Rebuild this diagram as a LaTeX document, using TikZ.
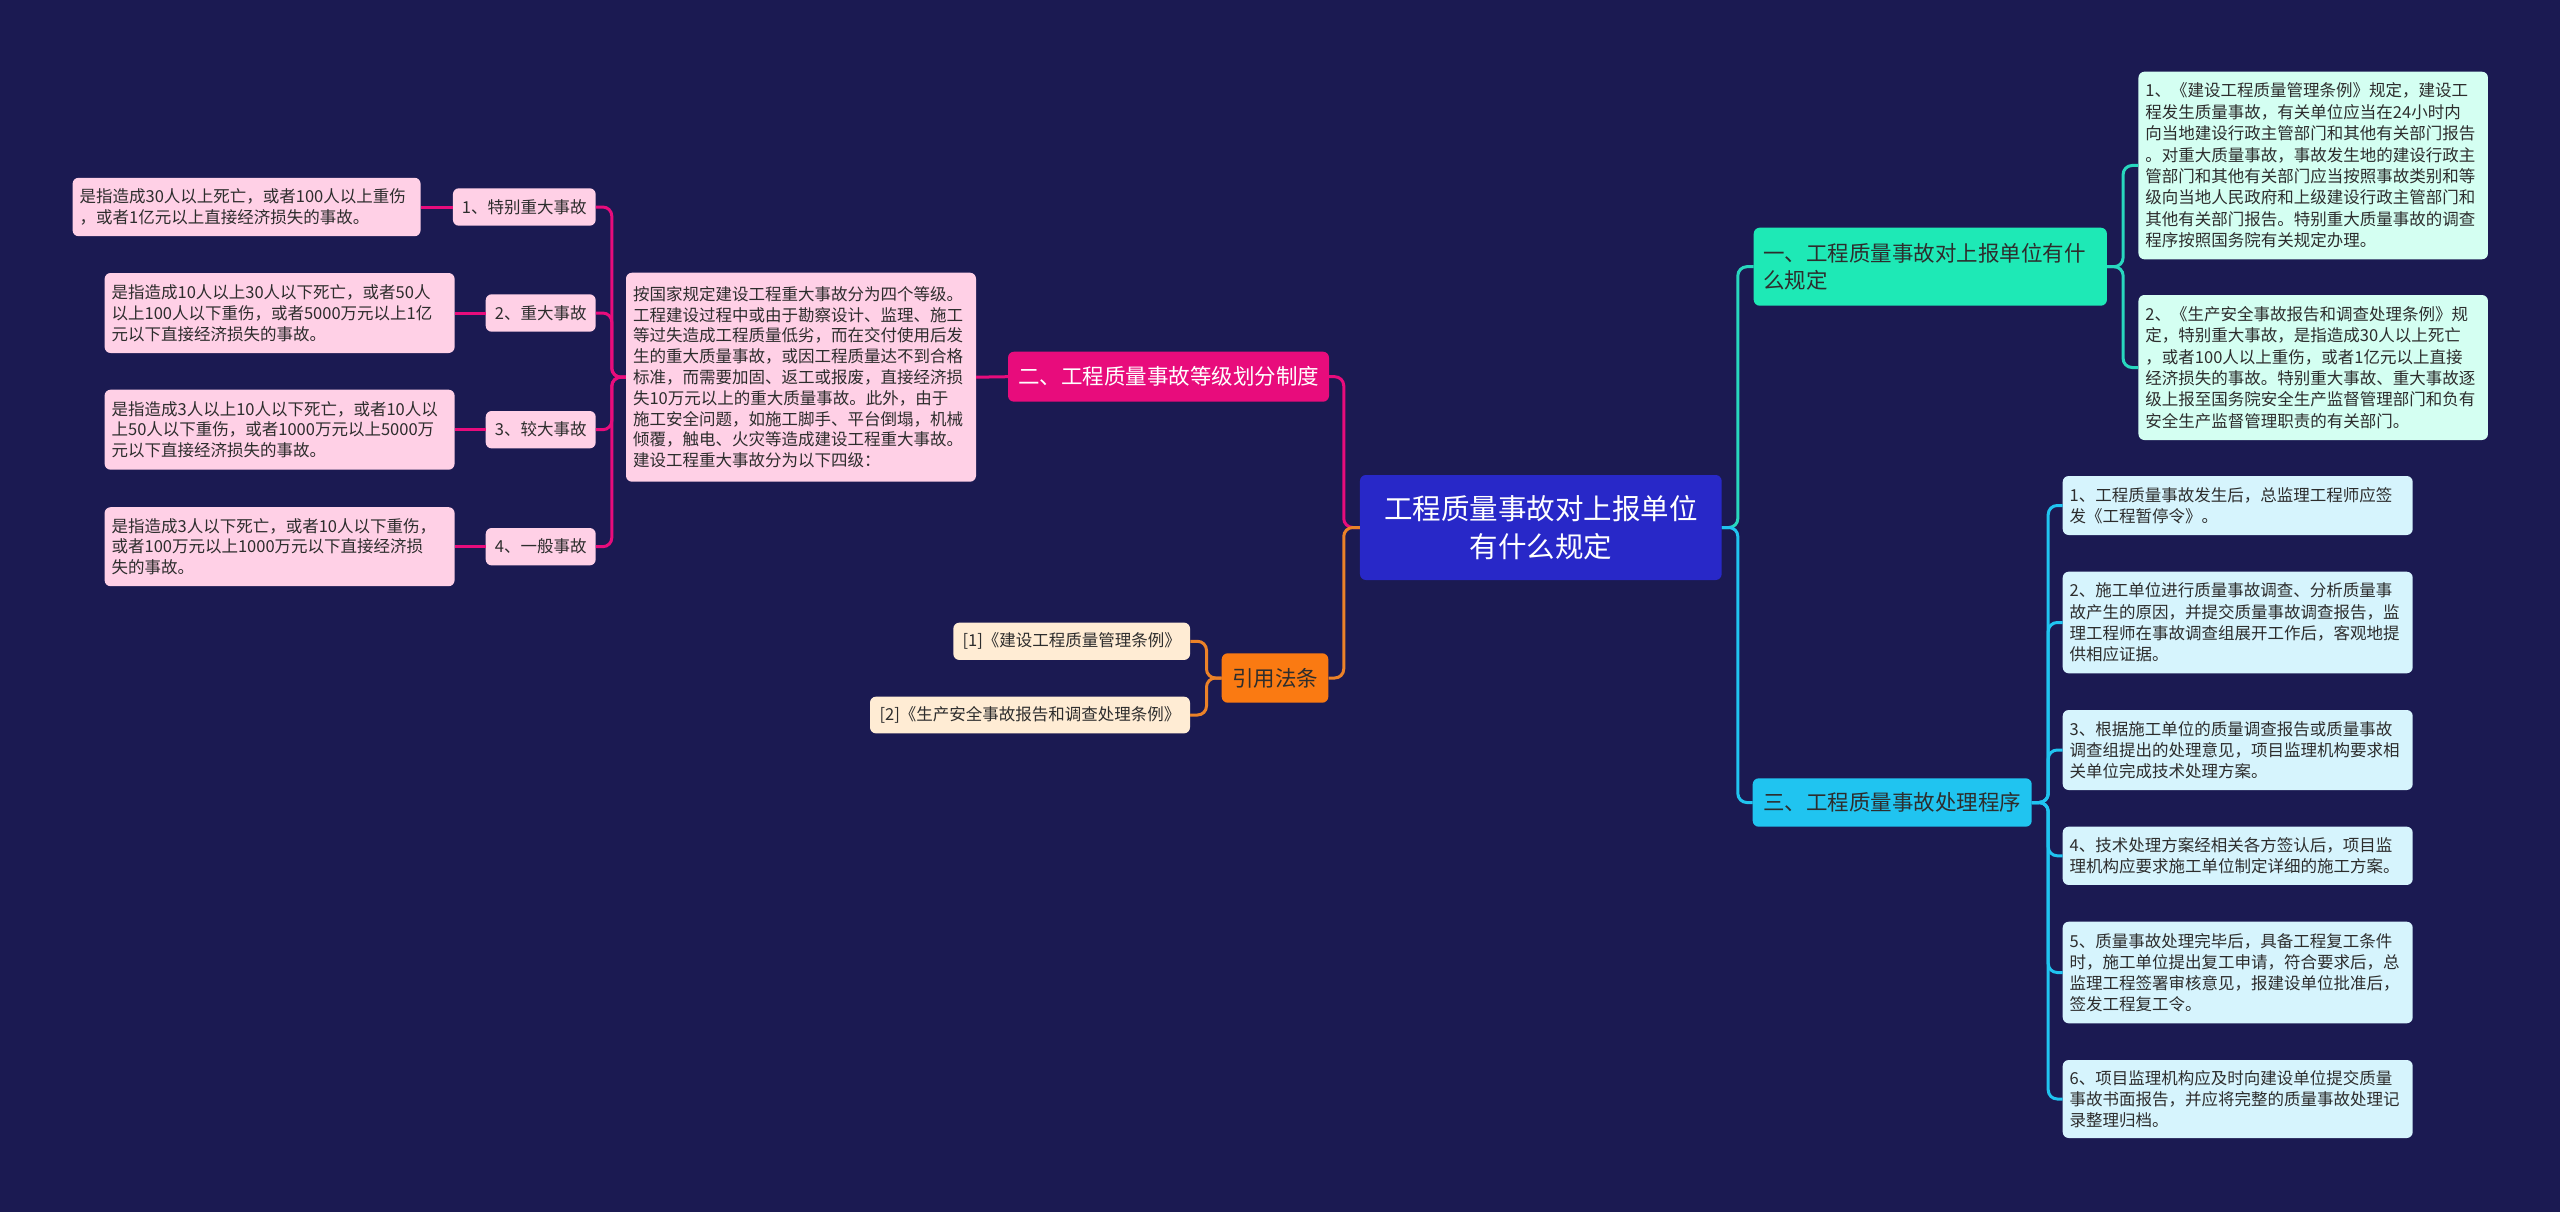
\documentclass[tikz,border=0pt]{standalone}
\usepackage{fontspec}
\setmainfont{Noto Sans CJK SC}
\definecolor{bg}{RGB}{27,26,82}
\definecolor{cblue}{RGB}{40,40,200}
\definecolor{mag}{RGB}{232,12,124}
\definecolor{pinkbox}{RGB}{255,208,230}
\definecolor{orng}{RGB}{250,122,18}
\definecolor{orline}{RGB}{236,130,40}
\definecolor{cream}{RGB}{255,236,212}
\definecolor{aqua}{RGB}{30,233,182}
\definecolor{aqline}{RGB}{40,215,190}
\definecolor{mint}{RGB}{212,255,242}
\definecolor{sky}{RGB}{32,196,240}
\definecolor{lcyan}{RGB}{214,244,253}
\definecolor{txt}{RGB}{45,45,45}
\begin{document}
\begin{tikzpicture}[x=1pt,y=-1pt,
  base/.style={rounded corners=6pt, inner sep=0pt, text=txt},
  small/.style={font=\fontsize{16.5}{21}\selectfont},
  midf/.style={font=\fontsize{21.5}{27.3}\selectfont},
  para/.style={base, small, align=left, inner xsep=7pt},
  pinkb/.style={para, fill=pinkbox},
  pinkl/.style={base, small, align=center, fill=pinkbox},
  refb/.style={base, small, align=center, fill=cream},
  mintb/.style={para, fill=mint, font=\fontsize{16.5}{21.4}\selectfont},
  cyanb/.style={para, fill=lcyan, font=\fontsize{16.5}{21.2}\selectfont},
  conn/.style={line width=3pt, rounded corners=9pt},
]
\useasboundingbox (0,0) rectangle (2560,1212);
\fill[bg] (0,0) rectangle (2560,1212);

% center
\node[base, fill=cblue, text=white, align=center, minimum width=361.7pt, minimum height=105pt,
  font=\fontsize{28.5}{38.3}\selectfont] (c) at (1540.8,527.5) {工程质量事故对上报单位\\有什么规定};

% left branch 二
\node[base, fill=mag, text=white, align=center, minimum width=321pt, minimum height=50pt, midf] (b2) at (1168.5,376.7) {二、工程质量事故等级划分制度};
\node[pinkb, minimum width=350pt, minimum height=209pt, text width=336pt, font=\fontsize{16.5}{20.8}\selectfont] (m) at (801,377.2) {按国家规定建设工程重大事故分为四个等级。\\工程建设过程中或由于勘察设计、监理、施工\\等过失造成工程质量低劣，而在交付使用后发\\生的重大质量事故，或因工程质量达不到合格\\标准，而需要加固、返工或报废，直接经济损\\失10万元以上的重大质量事故。此外，由于\\施工安全问题，如施工脚手、平台倒塌，机械\\倾覆，触电、火灾等造成建设工程重大事故。\\建设工程重大事故分为以下四级：};

\node[pinkl, minimum width=142.8pt, minimum height=37.4pt] (L1) at (524.3,207) {1、特别重大事故};
\node[pinkl, minimum width=110pt, minimum height=37.4pt] (L2) at (540.7,313) {2、重大事故};
\node[pinkl, minimum width=110pt, minimum height=37.4pt] (L3) at (540.7,429.7) {3、较大事故};
\node[pinkl, minimum width=110pt, minimum height=37.4pt] (L4) at (540.7,546.7) {4、一般事故};

\node[pinkb, minimum width=348pt, minimum height=58.4pt, text width=334pt, font=\fontsize{16.5}{20.8}\selectfont] (d1) at (246.6,207) {是指造成30人以上死亡，或者100人以上重伤\\，或者1亿元以上直接经济损失的事故。};
\node[pinkb, minimum width=350pt, minimum height=80pt, text width=336pt, font=\fontsize{16.5}{20.8}\selectfont] (d2) at (279.6,313) {是指造成10人以上30人以下死亡，或者50人\\以上100人以下重伤，或者5000万元以上1亿\\元以下直接经济损失的事故。};
\node[pinkb, minimum width=350pt, minimum height=80pt, text width=336pt, font=\fontsize{16.5}{20.8}\selectfont] (d3) at (279.6,429.7) {是指造成3人以上10人以下死亡，或者10人以\\上50人以下重伤，或者1000万元以上5000万\\元以下直接经济损失的事故。};
\node[pinkb, minimum width=350pt, minimum height=79pt, text width=336pt, font=\fontsize{16.5}{20.8}\selectfont] (d4) at (279.6,546.7) {是指造成3人以下死亡，或者10人以下重伤，\\或者100万元以上1000万元以下直接经济损\\失的事故。};

% 引用法条
\node[base, fill=orng, align=center, minimum width=106.6pt, minimum height=49.4pt, midf] (yf) at (1275,678) {引用法条};
\node[refb, minimum width=236.7pt, minimum height=37.3pt] (r1) at (1071.7,641.3) {[1]《建设工程质量管理条例》};
\node[refb, minimum width=320pt, minimum height=36.7pt] (r2) at (1030,715) {[2]《生产安全事故报告和调查处理条例》};

% right branch 一
\node[base, fill=aqua, align=left, inner xsep=9.6pt, text width=334pt, minimum height=78pt, midf] (b1) at (1930.3,266.7) {一、工程质量事故对上报单位有什\\么规定};
\node[mintb, minimum width=349.5pt, minimum height=187.6pt, text width=335.5pt] (R1) at (2313.2,165.5) {1、《建设工程质量管理条例》规定，建设工\\程发生质量事故，有关单位应当在24小时内\\向当地建设行政主管部门和其他有关部门报告\\。对重大质量事故，事故发生地的建设行政主\\管部门和其他有关部门应当按照事故类别和等\\级向当地人民政府和上级建设行政主管部门和\\其他有关部门报告。特别重大质量事故的调查\\程序按照国务院有关规定办理。};
\node[mintb, minimum width=349.5pt, minimum height=145pt, text width=335.5pt] (R2) at (2313.2,367.5) {2、《生产安全事故报告和调查处理条例》规\\定，特别重大事故，是指造成30人以上死亡\\，或者100人以上重伤，或者1亿元以上直接\\经济损失的事故。特别重大事故、重大事故逐\\级上报至国务院安全生产监督管理部门和负有\\安全生产监督管理职责的有关部门。};

% right branch 三
\node[base, fill=sky, align=center, minimum width=279pt, minimum height=48.4pt, midf] (b3) at (1892.2,802.5) {三、工程质量事故处理程序};
\node[cyanb, minimum width=350pt, minimum height=59pt, text width=336pt] (S1) at (2237.7,505.5) {1、工程质量事故发生后，总监理工程师应签\\发《工程暂停令》。};
\node[cyanb, minimum width=350pt, minimum height=101.6pt, text width=336pt] (S2) at (2237.7,622.5) {2、施工单位进行质量事故调查、分析质量事\\故产生的原因，并提交质量事故调查报告，监\\理工程师在事故调查组展开工作后，客观地提\\供相应证据。};
\node[cyanb, minimum width=350pt, minimum height=80pt, text width=336pt] (S3) at (2237.7,750) {3、根据施工单位的质量调查报告或质量事故\\调查组提出的处理意见，项目监理机构要求相\\关单位完成技术处理方案。};
\node[cyanb, minimum width=350pt, minimum height=58.3pt, text width=336pt] (S4) at (2237.7,855.8) {4、技术处理方案经相关各方签认后，项目监\\理机构应要求施工单位制定详细的施工方案。};
\node[cyanb, minimum width=350pt, minimum height=101.6pt, text width=336pt] (S5) at (2237.7,972.5) {5、质量事故处理完毕后，具备工程复工条件\\时，施工单位提出复工申请，符合要求后，总\\监理工程签署审核意见，报建设单位批准后，\\签发工程复工令。};
\node[cyanb, minimum width=350pt, minimum height=78pt, text width=336pt] (S6) at (2237.7,1099) {6、项目监理机构应及时向建设单位提交质量\\事故书面报告，并应将完整的质量事故处理记\\录整理归档。};

% connectors
\draw[conn, mag] (c.west) -- ++(-16,0) |- (b2.east);
\draw[conn, orline] (c.west) -- ++(-16,0) |- (yf.east);
\draw[conn, mag] (b2.west) -- (m.east);
\foreach \n in {L1,L2,L3,L4} \draw[conn, mag] (m.west) -- ++(-14,0) |- (\n.east);
\draw[conn, mag] (L1.west) -- (d1.east);
\draw[conn, mag] (L2.west) -- (d2.east);
\draw[conn, mag] (L3.west) -- (d3.east);
\draw[conn, mag] (L4.west) -- (d4.east);
\foreach \n in {r1,r2} \draw[conn, orline] (yf.west) -- ++(-15,0) |- (\n.east);
\draw[conn, aqline] (c.east) -- ++(16,0) |- (b1.west);
\draw[conn, sky] (c.east) -- ++(16,0) |- (b3.west);
\foreach \n in {R1,R2} \draw[conn, aqline] (b1.east) -- ++(16,0) |- (\n.west);
\foreach \n in {S1,S2,S3,S4,S5,S6} \draw[conn, sky] (b3.east) -- ++(16.3,0) |- (\n.west);
\end{tikzpicture}
\end{document}
